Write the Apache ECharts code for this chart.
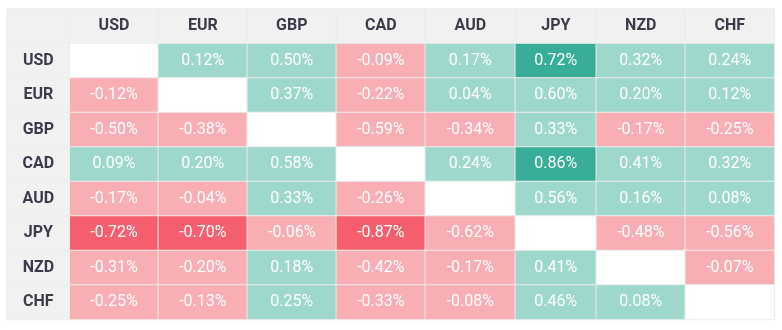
<!DOCTYPE html>
<html>
<head>
<meta charset="utf-8">
<script src="https://cdn.jsdelivr.net/npm/echarts@6/dist/echarts.min.js"></script>
<style>html,body{margin:0;padding:0;background:#fff}#c{width:782px;height:330px}</style>
</head>
<body>
<div id="c"></div>
<script>
// ---- data ----
var currencies = ['USD','EUR','GBP','CAD','AUD','JPY','NZD','CHF'];
var rowUSD = [null, 0.12, 0.50, -0.09, 0.17, 0.72, 0.32, 0.24];
var rowEUR = [-0.12, null, 0.37, -0.22, 0.04, 0.60, 0.20, 0.12];
var rowGBP = [-0.50, -0.38, null, -0.59, -0.34, 0.33, -0.17, -0.25];
var rowCAD = [0.09, 0.20, 0.58, null, 0.24, 0.86, 0.41, 0.32];
var rowAUD = [-0.17, -0.04, 0.33, -0.26, null, 0.56, 0.16, 0.08];
var rowJPY = [-0.72, -0.70, -0.06, -0.87, -0.62, null, -0.48, -0.56];
var rowNZD = [-0.31, -0.20, 0.18, -0.42, -0.17, 0.41, null, -0.07];
var rowCHF = [-0.25, -0.13, 0.25, -0.33, -0.08, 0.46, 0.08, null];
var matrix = [rowUSD, rowEUR, rowGBP, rowCAD, rowAUD, rowJPY, rowNZD, rowCHF];

// ---- layout ----
var tableLeft = 7, tableTop = 9, tableHeight = 310.5;
var colWidths = [62.7, 88.6, 89, 89, 89, 90, 81, 89, 89];

var HEADER_BG = '#f1f1f1', HEADER_TEXT = '#3b3b4b', BORDER = '#ececec';
function cellColor(v) {
  if (v === null) return '#ffffff';
  if (v >= 0.65) return '#38ad97';
  if (v >= 0) return '#9ed7cc';
  if (v <= -0.65) return '#f65f6e';
  return '#f9aeb4';
}

var rowsCat = [''].concat(currencies);
var grids = [], xAxes = [], yAxes = [], series = [];
var x = tableLeft;
for (var c = 0; c <= currencies.length; c++) {
  grids.push({left: x, top: tableTop, width: colWidths[c], height: tableHeight});
  x += colWidths[c];
  xAxes.push({type: 'category', gridIndex: c, data: [c === 0 ? '' : currencies[c-1]], show: false});
  yAxes.push({type: 'category', gridIndex: c, data: rowsCat, inverse: true, show: false});
  var data = [];
  for (var r = 0; r <= currencies.length; r++) {
    var isHeader = (r === 0 || c === 0);
    var text, color, v = 0;
    if (isHeader) {
      text = (r === 0 && c === 0) ? '' : (r === 0 ? currencies[c-1] : currencies[r-1]);
      color = HEADER_BG;
    } else {
      v = matrix[r-1][c-1];
      text = v === null ? '' : v.toFixed(2) + '%';
      color = cellColor(v);
    }
    data.push({
      value: [0, r, v === null ? 0 : v],
      itemStyle: {color: color, borderColor: BORDER, borderWidth: 1},
      label: {
        show: true,
        formatter: text,
        color: isHeader ? HEADER_TEXT : '#ffffff',
        fontWeight: isHeader ? 'bold' : 'normal',
        fontFamily: 'Roboto',
        fontSize: 16
      }
    });
  }
  series.push({
    type: 'heatmap', xAxisIndex: c, yAxisIndex: c, data: data,
    label: {show: true, fontSize: 16, fontFamily: 'Roboto'},
    emphasis: {disabled: true}, silent: true, animation: false
  });
}

var chart = echarts.init(document.getElementById('c'), null, {renderer: 'canvas'});
chart.setOption({
  animation: false,
  grid: grids, xAxis: xAxes, yAxis: yAxes, series: series
});
</script>
</body>
</html>
